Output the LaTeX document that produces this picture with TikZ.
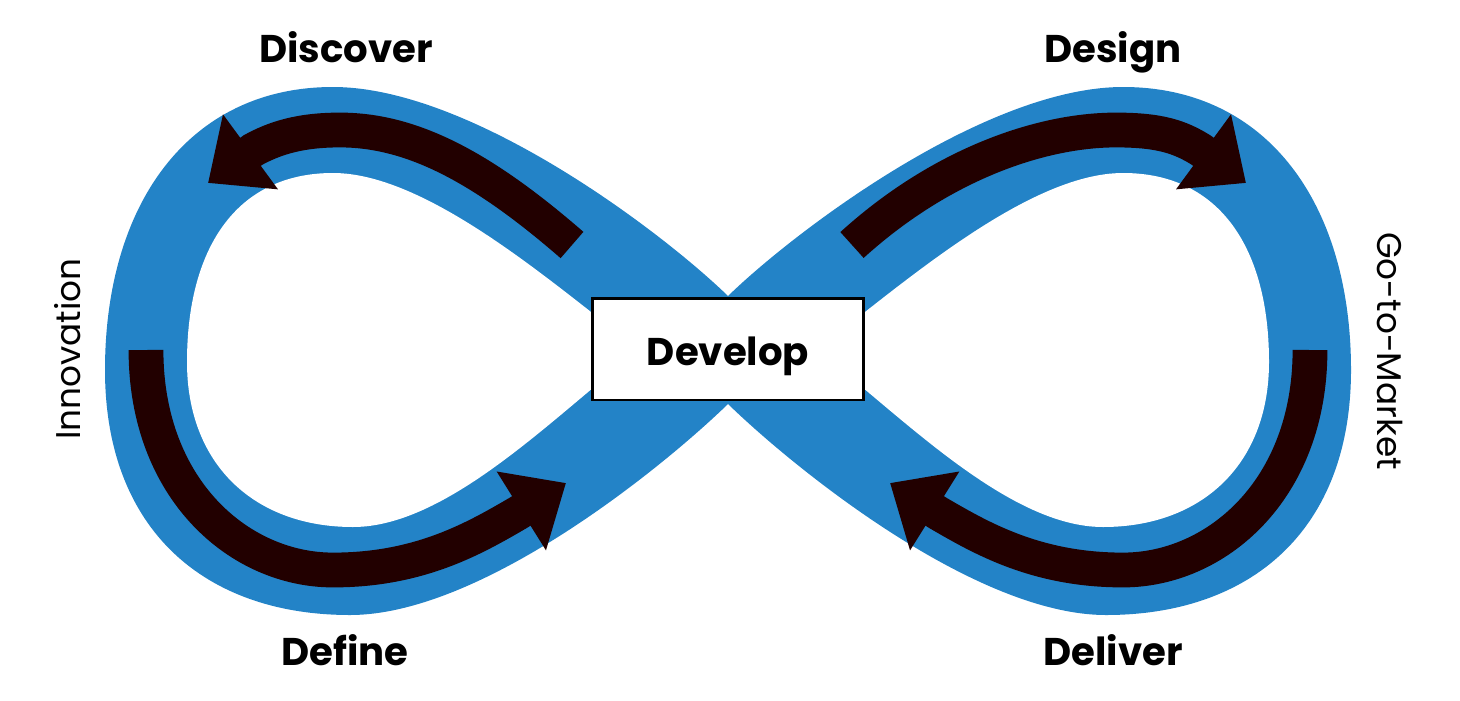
\documentclass[tikz,border=0pt]{standalone}
\usepackage{fontspec}
\setmainfont{Poppins}
\usetikzlibrary{arrows.meta}
\definecolor{loopblue}{RGB}{35,131,199}
\definecolor{arrowred}{RGB}{34,0,0}

\begin{document}
\begin{tikzpicture}[x=0.02cm, y=-0.02cm,
  phase/.style={font=\fontsize{22}{26}\selectfont\bfseries, anchor=base},
  side/.style={font=\fontsize{19.5}{24}\selectfont, anchor=base},
  flow/.style={draw=arrowred, line width=19.8pt, -{Triangle[length=30pt, width=51pt]}}]
  \useasboundingbox (0,0) rectangle (1460,700);
  %\draw[help lines, step=50] (0,0) grid (1460,700);
  \fill[loopblue] (728,296) .. controls (660,230) and (470,87) .. (333,87)
    .. controls (188,87) and (105,205) .. (105,370)
    .. controls (105,530) and (205,615) .. (350,615)
    .. controls (480,615) and (660,470) .. (728,404)
    .. controls (796,470) and (976,615) .. (1106,615)
    .. controls (1251,615) and (1351,530) .. (1351,370)
    .. controls (1351,205) and (1268,87) .. (1123,87)
    .. controls (986,87) and (796,230) .. (728,296) -- cycle;
  \fill[white] (640,350) .. controls (560,290) and (430,173) .. (333,173)
    .. controls (235,173) and (187,250) .. (187,362)
    .. controls (187,465) and (255,527) .. (353,527)
    .. controls (450,527) and (560,410) .. (640,350) -- cycle;
  \fill[white] (816,350) .. controls (896,290) and (1026,173) .. (1123,173)
    .. controls (1221,173) and (1269,250) .. (1269,362)
    .. controls (1269,465) and (1201,527) .. (1103,527)
    .. controls (1006,527) and (896,410) .. (816,350) -- cycle;
  % arrows
  \draw[flow] (572,245) .. controls (480,165) and (410,130) .. (340,130)
    .. controls (300,130) and (275,138) .. (253,150) -- (208,183);
  \draw[flow] (146,350) .. controls (146,490) and (240,570) .. (333,570)
    .. controls (420,570) and (475,538) .. (518,513) -- (566,483);
  \draw[flow] (852,245) .. controls (940,165) and (1040,130) .. (1116,130)
    .. controls (1160,130) and (1180,137) .. (1201,150) -- (1246,183);
  \draw[flow] (1310,350) .. controls (1310,490) and (1216,570) .. (1123,570)
    .. controls (1036,570) and (981,538) .. (938,513) -- (890,483);
  \node[draw=black, line width=1.7pt, fill=white, minimum width=5.42cm, minimum height=2.04cm,
    text height=0.8cm, text depth=0.16cm, font=\fontsize{22}{26}\selectfont\bfseries] (develop) at (728,349) {Develop};
  \node[phase] (discover) at (346,62) {Discover};
  \node[phase] (design) at (1113,62) {Design};
  \node[phase] (define) at (345,665) {Define};
  \node[phase] (deliver) at (1113,665) {Deliver};
  \node[side, rotate=90] (innovation) at (80,349) {Innovation};
  \node[side, rotate=-90] (gotomarket) at (1377,351) {Go-to-Market};
\end{tikzpicture}
\end{document}
